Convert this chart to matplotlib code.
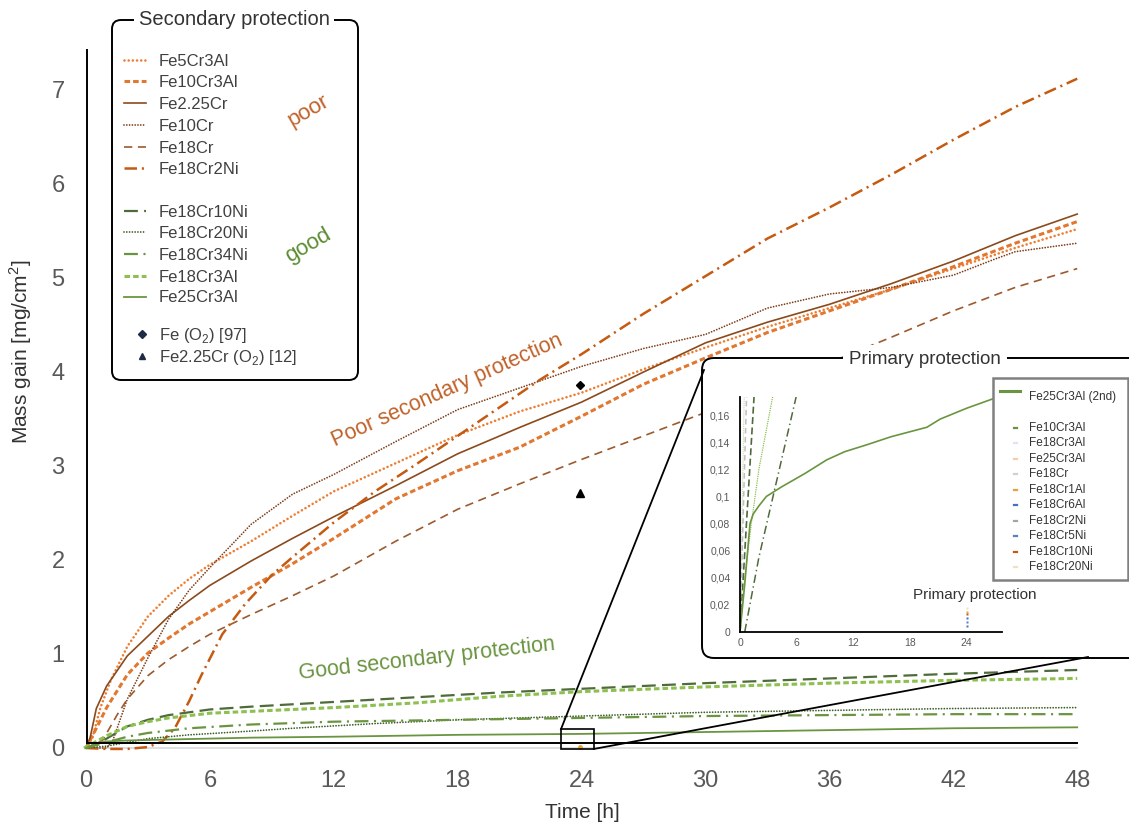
import matplotlib
matplotlib.use("Agg")
import matplotlib.pyplot as plt
from matplotlib.patches import FancyBboxPatch, Rectangle

plt.rcParams['font.family'] = ['Liberation Sans', 'DejaVu Sans']
plt.rcParams['mathtext.fontset'] = 'custom'
plt.rcParams['mathtext.rm'] = 'Liberation Sans'
plt.rcParams['lines.scale_dashes'] = False

# ---------------- data (main chart) ----------------
t_fe5cr3al = [0, 0.3, 0.7, 1.2, 2, 3, 4, 5, 6, 8, 10, 12, 15, 18, 21, 24, 27, 30, 33, 36, 39, 42, 45, 48]
v_fe5cr3al = [0, 0.1, 0.43, 0.72, 1.08, 1.4, 1.62, 1.8, 1.95, 2.2, 2.47, 2.73, 3.03, 3.33, 3.58, 3.78, 4.03, 4.26, 4.48, 4.68, 4.88, 5.1, 5.32, 5.52]

t_fe10cr3al = [0, 0.5, 1, 2, 3, 4, 5, 6, 8, 10, 12, 15, 18, 21, 24, 27, 30, 33, 36, 39, 42, 45, 48]
v_fe10cr3al = [0, 0.21, 0.43, 0.78, 1.01, 1.17, 1.32, 1.45, 1.71, 1.96, 2.23, 2.65, 2.95, 3.2, 3.53, 3.87, 4.15, 4.42, 4.65, 4.88, 5.12, 5.37, 5.6]

t_fe225cr = [0, 0.2, 0.5, 1, 2, 3, 4, 5, 6, 8, 10, 12, 15, 18, 21, 24, 27, 30, 33, 36, 39, 42, 45, 48]
v_fe225cr = [0, 0.11, 0.42, 0.66, 0.98, 1.19, 1.4, 1.57, 1.73, 1.99, 2.23, 2.46, 2.79, 3.13, 3.41, 3.68, 4.0, 4.31, 4.53, 4.72, 4.94, 5.18, 5.45, 5.68]

t_fe10cr = [0, 1, 1.3, 2, 3, 4, 5, 6, 8, 10, 12, 15, 18, 21, 24, 27, 30, 33, 36, 39, 42, 44, 45, 48]
v_fe10cr = [0, 0, 0.08, 0.52, 0.96, 1.37, 1.68, 1.92, 2.38, 2.7, 2.91, 3.26, 3.6, 3.83, 4.06, 4.25, 4.4, 4.68, 4.83, 4.9, 5.03, 5.2, 5.28, 5.37]

t_fe18cr = [0, 0.8, 1.5, 2, 3, 4, 5, 6, 8, 10, 12, 15, 18, 21, 24, 27, 30, 33, 36, 39, 42, 45, 48]
v_fe18cr = [0, 0.08, 0.35, 0.52, 0.77, 0.94, 1.08, 1.21, 1.42, 1.62, 1.83, 2.2, 2.54, 2.81, 3.07, 3.32, 3.57, 3.84, 4.1, 4.37, 4.65, 4.9, 5.1]

t_fe18cr2ni = [0, 1, 2, 3, 3.7, 4.3, 5, 5.6, 6.6, 7.7, 9, 10, 12, 14, 16, 18, 20, 22, 24, 27, 30, 33, 36, 39, 42, 45, 48]
v_fe18cr2ni = [0, -0.01, -0.01, 0.01, 0.07, 0.21, 0.5, 0.78, 1.21, 1.53, 1.84, 2.03, 2.4, 2.73, 3.02, 3.32, 3.62, 3.92, 4.19, 4.62, 5.02, 5.42, 5.75, 6.1, 6.47, 6.82, 7.12]

t_fe18cr10ni = [0, 0.5, 1, 2, 3, 4, 6, 8, 12, 16, 20, 24, 30, 36, 42, 48]
v_fe18cr10ni = [0, 0.04, 0.1, 0.23, 0.3, 0.35, 0.41, 0.44, 0.49, 0.54, 0.59, 0.63, 0.69, 0.74, 0.79, 0.83]

t_fe18cr20ni = [0, 1, 2, 3, 5, 8, 10, 14, 18, 24, 30, 36, 42, 48]
v_fe18cr20ni = [0, 0.02, 0.06, 0.1, 0.14, 0.18, 0.21, 0.26, 0.3, 0.34, 0.38, 0.4, 0.42, 0.43]

t_fe18cr34ni = [0, 1, 2, 3, 5, 8, 12, 18, 24, 30, 36, 42, 48]
v_fe18cr34ni = [0, 0.06, 0.12, 0.16, 0.21, 0.25, 0.28, 0.3, 0.32, 0.34, 0.35, 0.36, 0.36]

t_fe18cr3al = [-0.1, 0.5, 1, 2, 3, 4, 6, 8, 12, 16, 20, 24, 30, 36, 42, 48]
v_fe18cr3al = [0, 0.07, 0.13, 0.23, 0.28, 0.32, 0.37, 0.39, 0.43, 0.48, 0.55, 0.6, 0.65, 0.69, 0.72, 0.74]

t_fe25cr3al = [0, 0.5, 1, 2, 4, 8, 12, 18, 24, 30, 36, 42, 48]
v_fe25cr3al = [0, 0.05, 0.07, 0.08, 0.09, 0.11, 0.12, 0.14, 0.15, 0.17, 0.19, 0.21, 0.22]

ref_t = [23.9, 23.9]
ref_v = [3.86, 2.71]          # Fe (O2) [97], Fe2.25Cr (O2) [12]
ref_labels = ['Fe (O$_\\mathregular{2}$) [97]', 'Fe2.25Cr (O$_\\mathregular{2}$) [12]']

x_ticks = [0, 6, 12, 18, 24, 30, 36, 42, 48]
y_ticks = [0, 1, 2, 3, 4, 5, 6, 7]

# ---------------- data (inset) ----------------
t_in_fe25 = [0, 0.5, 1.06, 1.4, 2, 2.8, 4.4, 6.9, 9.2, 11.1, 13.4, 16, 19.8, 21.2, 24, 26.8, 28]
v_in_fe25 = [0, 0.035, 0.08, 0.087, 0.093, 0.1, 0.107, 0.117, 0.127, 0.133, 0.138, 0.144, 0.151, 0.157, 0.165, 0.172, 0.175]
t_in_a = [0, 0.35, 0.7]
v_in_a = [0, 0.09, 0.175]
t_in_b = [0, 0.6, 1.5]
v_in_b = [0, 0.07, 0.175]
t_in_c = [0, 0.5, 1.2, 2, 3.5]
v_in_c = [0, 0.04, 0.08, 0.12, 0.175]
t_in_d = [0.5, 2, 4, 6]
v_in_d = [0, 0.055, 0.115, 0.175]
t_in_e = [0, 0.2, 0.45]
v_in_e = [0, 0.08, 0.175]
in_pt_v = [0.018, 0.015, 0.0135, 0.010, 0.0075, 0.0045]
in_pt_t = [24, 24, 24, 24, 24, 24]
in_x_ticks = [0, 6, 12, 18, 24]
in_y_ticks = [0, 0.02, 0.04, 0.06, 0.08, 0.10, 0.12, 0.14, 0.16]
in_y_labels = ['0', '0,02', '0,04', '0,06', '0,08', '0,1', '0,12', '0,14', '0,16']
in_leg_names = ['Fe10Cr3Al', 'Fe18Cr3Al', 'Fe25Cr3Al', 'Fe18Cr', 'Fe18Cr1Al', 'Fe18Cr6Al',
                'Fe18Cr2Ni', 'Fe18Cr5Ni', 'Fe18Cr10Ni', 'Fe18Cr20Ni']
in_leg_colors = ['#6A9540', '#DCE6F2', '#F8CBAD', '#D0D0D0', '#E6A23C', '#4472C4',
                 '#A5A5A5', '#5B7FC4', '#C55A11', '#EDE3C0']
in_pt_colors = ['#EDE3C0', '#E6A23C', '#C55A11', '#4472C4', '#5B7FC4', '#4472C4']

# ---------------- styles ----------------
series = [
    ('Fe5Cr3Al', t_fe5cr3al, v_fe5cr3al, dict(color='#ED7D31', lw=1.9, dashes=(0.01, 3.0), dash_capstyle='round')),
    ('Fe10Cr3Al', t_fe10cr3al, v_fe10cr3al, dict(color='#E2772F', lw=2.2, dashes=(4, 2.2))),
    ('Fe2.25Cr', t_fe225cr, v_fe225cr, dict(color='#8B4A1C', lw=1.2)),
    ('Fe10Cr', t_fe10cr, v_fe10cr, dict(color='#7F3F1A', lw=1.3, dashes=(0.01, 2.0), dash_capstyle='round')),
    ('Fe18Cr', t_fe18cr, v_fe18cr, dict(color='#9C5A2E', lw=1.2, dashes=(6, 4))),
    ('Fe18Cr2Ni', t_fe18cr2ni, v_fe18cr2ni, dict(color='#C55A11', lw=1.8, dashes=(9, 3.5, 1.5, 3.5))),
    ('Fe18Cr10Ni', t_fe18cr10ni, v_fe18cr10ni, dict(color='#4E6B3A', lw=1.6, dashes=(10, 4.5))),
    ('Fe18Cr20Ni', t_fe18cr20ni, v_fe18cr20ni, dict(color='#3D5E2A', lw=1.3, dashes=(0.01, 2.0), dash_capstyle='round')),
    ('Fe18Cr34Ni', t_fe18cr34ni, v_fe18cr34ni, dict(color='#6B9440', lw=1.6, dashes=(10, 4, 1.5, 4))),
    ('Fe18Cr3Al', t_fe18cr3al, v_fe18cr3al, dict(color='#8DC04F', lw=2.2, dashes=(4, 2.2))),
    ('Fe25Cr3Al', t_fe25cr3al, v_fe25cr3al, dict(color='#6A9540', lw=1.3)),
]

W, H = 1129, 823
fig = plt.figure(figsize=(W / 100, H / 100), dpi=100)

# main axes mapping: t=0 -> px 86, 20.65 px/h ; v=0 -> py 748, 94 px/unit
xa, xb = -0.3, 48.6
ya, yb = -0.08, 7.45
left = 86 + xa * 20.65
right = 86 + xb * 20.65
bottom = 748 - ya * 94
top = 748 - yb * 94
ax = fig.add_axes([left / W, 1 - bottom / H, (right - left) / W, (bottom - top) / H], zorder=1)
ax.set_xlim(xa, xb)
ax.set_ylim(ya, yb)
for s in ax.spines.values():
    s.set_visible(False)
ax.set_xticks(x_ticks)
ax.set_yticks(y_ticks)
ax.tick_params(length=0, labelsize=17, labelcolor='#595959')
ax.tick_params(axis='x', pad=10.5)
ax.tick_params(axis='y', pad=11)
ax.patch.set_alpha(0)

ax.plot([0, 48], [0, 0], color='#D9D9D9', lw=1.2, zorder=1)
for name, t, v, st in series:
    ax.plot(t, v, zorder=2, **st)
ax.plot([0.05, 48], [0.05, 0.05], color='black', lw=1.4, zorder=3)
ax.plot([0.05, 0.05], [0.05, 7.43], color='black', lw=1.4, zorder=3, clip_on=False)

ax.plot(ref_t[0], ref_v[0], marker='D', ms=4.5, color='black', zorder=4)
ax.plot(ref_t[1], ref_v[1], marker='^', ms=5.5, color='black', zorder=4)
ax.plot(23.9, 0.01, marker='o', ms=2.5, color='#E6A23C', zorder=4)
zr = Rectangle((23.0, -0.01), 1.6, 0.21, fill=False, ec='black', lw=1.2, zorder=5)
ax.add_patch(zr)

ax.text(17.5, 3.8, 'Poor secondary protection', fontsize=15.5, color='#C0622A',
        rotation=24, ha='center', va='center')
ax.text(16.5, 0.95, 'Good secondary protection', fontsize=15.5, color='#6A9440',
        rotation=6.5, ha='center', va='center')

fig.text(21 / W, 1 - 352 / H, 'Mass gain [mg/cm$^\\mathregular{2}$]', rotation=90, fontsize=15,
         color='#333333', ha='center', va='center')
fig.text(582 / W, 1 - 812 / H, 'Time [h]', fontsize=15, color='#333333', ha='center', va='center')

# ---------------- overlay (pixel coords) ----------------
ov = fig.add_axes([0, 0, 1, 1], zorder=2)
ov.set_xlim(0, W)
ov.set_ylim(H, 0)
ov.axis('off')


def to_px(x, y):
    d = ax.transData.transform((x, y))
    return d[0], H - d[1]


# connectors from zoom rectangle to inset box
p1 = to_px(23.0, 0.2)
p2 = to_px(24.6, -0.01)
ov.plot([p1[0], 704], [p1[1], 370], color='black', lw=1.3)
ov.plot([p2[0], 1088], [p2[1], 657], color='black', lw=1.3)

# secondary legend box
box = FancyBboxPatch((112, 20), 246, 360, boxstyle='round,pad=0,rounding_size=9',
                     fc='white', ec='black', lw=1.4)
ov.add_patch(box)
ov.text(234, 19, 'Secondary protection', fontsize=14.5, color='#333333', ha='center', va='center',
        bbox=dict(fc='white', ec='none', pad=3))
leg_y = [60, 81, 103, 125, 147, 168, 211, 232, 254, 276, 297]
for (name, t, v, st), y in zip(series, leg_y):
    ov.plot([124, 146], [y, y], **st)
    ov.text(159, y + 1, name, fontsize=12, color='#404040', ha='left', va='center')
ov.plot(142, 334, marker='D', ms=4, color='#1F2A44')
ov.plot(142, 356, marker='^', ms=4.5, color='#1F2A44')
ov.text(159, 335, ref_labels[0], fontsize=12, color='#404040', ha='left', va='center')
ov.text(159, 357, ref_labels[1], fontsize=12, color='#404040', ha='left', va='center')
ov.text(308, 111, 'poor', fontsize=16, color='#C0622A', rotation=30, ha='center', va='center')
ov.text(308, 246, 'good', fontsize=16, color='#5B8C32', rotation=30, ha='center', va='center')

# inset box
ibox = FancyBboxPatch((702, 358), 450, 300, boxstyle='round,pad=0,rounding_size=12',
                      fc='white', ec='black', lw=1.4)
ov.add_patch(ibox)
ov.text(925, 359, 'Primary protection', fontsize=13.5, color='#333333', ha='center', va='center',
        bbox=dict(fc='white', ec='none', pad=4))

# ---------------- inset axes ----------------
ix0, ix1, iy0, iy1 = 740, 1002, 632, 397
iax = fig.add_axes([ix0 / W, 1 - iy0 / H, (ix1 - ix0) / W, (iy0 - iy1) / H], zorder=3)
iax.set_xlim(0, 27.75)
iax.set_ylim(0, 0.1733)
iax.patch.set_alpha(0)
iax.spines['top'].set_visible(False)
iax.spines['right'].set_visible(False)
iax.spines['left'].set_linewidth(1.3)
iax.spines['bottom'].set_linewidth(1.3)
iax.set_xticks(in_x_ticks)
iax.set_yticks(in_y_ticks)
iax.set_yticklabels(in_y_labels)
iax.tick_params(length=0, labelsize=7.5, labelcolor='#595959')
iax.tick_params(axis='x', pad=4)
iax.tick_params(axis='y', pad=7)
iax.plot(t_in_e, v_in_e, color='#C8DDB0', lw=1.0, dashes=(0.01, 1.5), dash_capstyle='round')
iax.plot(t_in_a, v_in_a, color='#BFBFBF', lw=1.1, dashes=(4, 2.5))
iax.plot(t_in_b, v_in_b, color='#4E6B3A', lw=1.2, dashes=(5, 2.5))
iax.plot(t_in_c, v_in_c, color='#8DC04F', lw=1.1, dashes=(0.01, 1.6), dash_capstyle='round')
iax.plot(t_in_d, v_in_d, color='#4E6B3A', lw=1.1, dashes=(6, 2.5, 1, 2.5))
iax.plot(t_in_fe25, v_in_fe25, color='#6A9540', lw=1.2, clip_on=True)
for tt, vv, cc in zip(in_pt_t, in_pt_v, in_pt_colors):
    iax.plot(tt, vv, marker='s', ms=2.0, color=cc, mec='none')
iax.text(24.9, 0.027, 'Primary protection', fontsize=11, color='#333333', ha='center', va='center',
         clip_on=False)

# ---------------- inset legend overlay ----------------
ov2 = fig.add_axes([0, 0, 1, 1], zorder=4)
ov2.set_xlim(0, W)
ov2.set_ylim(H, 0)
ov2.axis('off')
ov2.add_patch(Rectangle((993, 378), 135, 202, fc='white', ec='#808080', lw=1.8))
ov2.plot([1000, 1020], [391, 391], color='#6A9540', lw=2.2)
ov2.text(1029, 397, 'Fe25Cr3Al (2nd)', fontsize=8.5, color='#333333', ha='left', va='center')
in_leg_y = [428, 443, 459, 474, 490, 505, 521, 536, 552, 567]
for nm, cc, yy in zip(in_leg_names, in_leg_colors, in_leg_y):
    ov2.plot([1014, 1017], [yy, yy], color=cc, lw=1.6)
    ov2.text(1029, yy, nm, fontsize=8.5, color='#333333', ha='left', va='center')

fig.savefig('out.png', dpi=100)
